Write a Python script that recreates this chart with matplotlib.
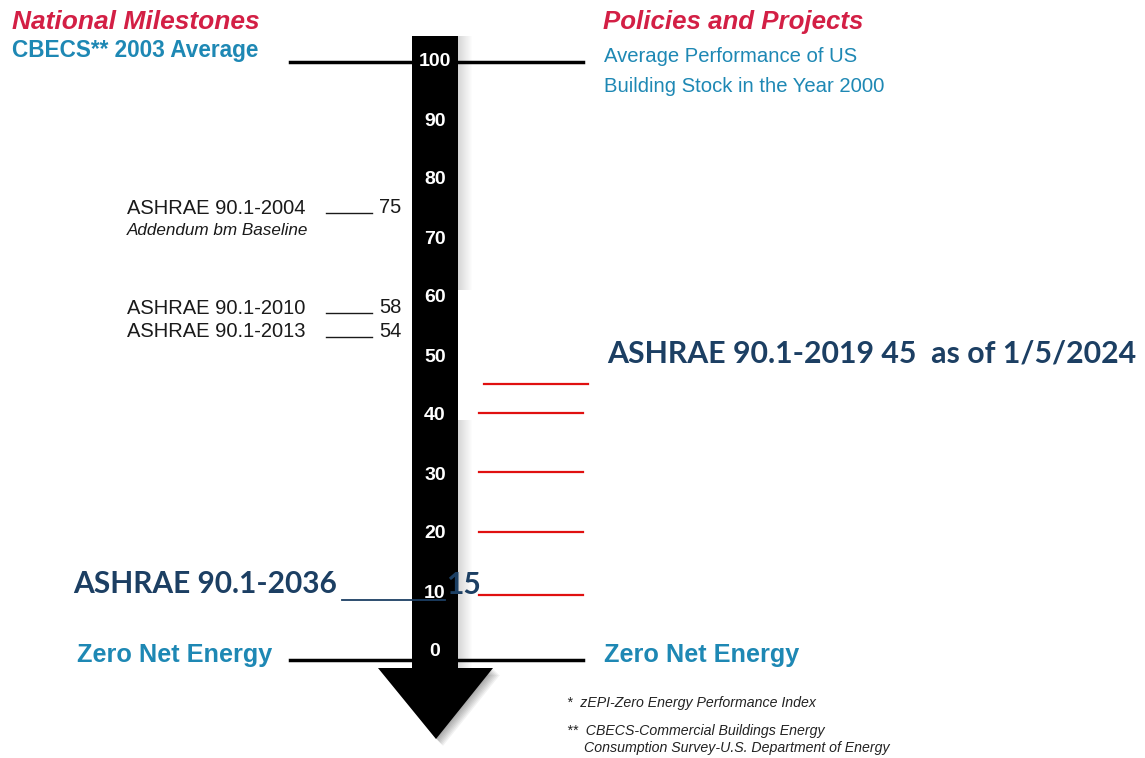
import matplotlib
matplotlib.use("Agg")
import matplotlib.pyplot as plt
import matplotlib.patches as patches

# zEPI scale printed on the arrow
scale_ticks = [100, 90, 80, 70, 60, 50, 40, 30, 20, 10, 0]

# national milestones (left side)
milestone_names = ["ASHRAE 90.1-2004", "ASHRAE 90.1-2010", "ASHRAE 90.1-2013"]
milestone_values = [75, 58, 54]

# red target lines (right side)
target_levels = [45.5, 40.5, 30.5, 20.3, 9.7]

# annotations added on top of the original graphic
new_label_2019 = "ASHRAE 90.1-2019 45  as of 1/5/2024"
new_label_2036 = "ASHRAE 90.1-2036"
value_2036 = 15
level_2036 = 8.8  # where its line is actually drawn

RED = "#d31f45"
TEAL = "#1e88b4"
NAVY = "#1c3f63"
SANS = ["Liberation Sans", "DejaVu Sans"]
CAL = ["Lato", "DejaVu Sans"]

PX_PER_UNIT = 5.9
ZERO_PX = 652


def py(pixel_y):
    # pixel row of the picture -> zEPI units
    return (ZERO_PX - pixel_y) / PX_PER_UNIT


fig = plt.figure(figsize=(11.45, 7.58), dpi=100)
ax = fig.add_axes([0, 0, 1, 1])
ax.set_xlim(0, 1145)
ax.set_ylim(py(758), py(0))
ax.axis("off")

# arrow shaft with soft shadow on the right
bar_left, bar_right = 412, 458
shadow_spans = [(py(668), py(420)), (py(290), py(36))]
for k in range(14):
    for lo, hi in shadow_spans:
        ax.add_patch(patches.Rectangle((bar_right + k, lo), 1, hi - lo,
                                       color="black", alpha=0.16 * (1 - k / 14),
                                       lw=0, zorder=1))
ax.add_patch(patches.Rectangle((bar_left, py(670)), bar_right - bar_left,
                               py(36) - py(670), color="black", lw=0, zorder=3))
# arrow head (with a faint shadow)
for k in range(8):
    ax.add_patch(patches.Polygon([(378 + k, py(668 + k)), (493 + k, py(668 + k)),
                                  (436 + k, py(739 + k))],
                                 closed=True, color="black", alpha=0.05, lw=0, zorder=2))
ax.add_patch(patches.Polygon([(378, py(668)), (493, py(668)), (436, py(739))],
                             closed=True, color="black", lw=0, zorder=3))

for v in scale_ticks:
    ax.text(435, v, str(v), color="white", fontsize=14, fontweight="bold",
            family=SANS, ha="center", va="center", zorder=4)

# 100 and 0 reference lines
for v in (100, py(660)):
    ax.plot([290, bar_left], [v, v], color="black", lw=2.5, zorder=2)
    ax.plot([bar_right, 583], [v, v], color="black", lw=2.5, zorder=2)

# headings
ax.text(12, py(22), "National Milestones", color=RED, fontsize=19,
        fontweight="bold", style="italic", family=SANS, va="center")
ax.text(12, py(51), "CBECS** 2003 Average", color=TEAL, fontsize=16.3,
        fontweight="bold", family=SANS, va="center")
ax.text(603, py(22), "Policies and Projects", color=RED, fontsize=18.6,
        fontweight="bold", style="italic", family=SANS, va="center")
ax.text(604, py(56), "Average Performance of US", color=TEAL, fontsize=14.6,
        family=SANS, va="center")
ax.text(604, py(86), "Building Stock in the Year 2000", color=TEAL, fontsize=14.6,
        family=SANS, va="center")

# milestones on the left
for name, val in zip(milestone_names, milestone_values):
    ax.text(127, val + 0.25, name, color="#1a1a1a", fontsize=14.5, family=SANS,
            va="center")
    ax.plot([326, 372], [val - 0.6, val - 0.6], color="#1a1a1a", lw=1, zorder=2)
    ax.text(379, val + 0.4, str(val), color="#1a1a1a", fontsize=14.5,
            family=SANS, va="center")
ax.text(127, py(230), "Addendum bm Baseline", color="#1a1a1a", fontsize=12.3,
        style="italic", family=SANS, va="center")

# red target lines
for i, lv in enumerate(target_levels):
    x0 = 484 if i == 0 else 479
    ax.plot([x0, x0 + 104], [lv, lv], color="#e01010", lw=1.6, zorder=2)

ax.text(607, py(353), new_label_2019, color=NAVY, fontsize=21.8,
        fontweight="bold", family=CAL, va="center")

ax.text(73, py(584), new_label_2036, color=NAVY, fontsize=21.5,
        fontweight="bold", family=CAL, va="center")
ax.plot([342, 445], [level_2036, level_2036], color=NAVY, lw=1.3, zorder=5)
ax.text(446, py(585), str(value_2036), color=NAVY, fontsize=21.5,
        fontweight="bold", family=CAL, va="center", zorder=5)

# zero net energy
ax.text(77, py(655), "Zero Net Energy", color=TEAL, fontsize=18.2,
        fontweight="bold", family=SANS, va="center")
ax.text(604, py(655), "Zero Net Energy", color=TEAL, fontsize=18.2,
        fontweight="bold", family=SANS, va="center")

# footnotes
ax.text(567, py(703), "*  zEPI-Zero Energy Performance Index", color="#222222",
        fontsize=10.2, style="italic", family=SANS, va="center")
ax.text(567, py(731), "**  CBECS-Commercial Buildings Energy", color="#222222",
        fontsize=10.2, style="italic", family=SANS, va="center")
ax.text(584, py(748), "Consumption Survey-U.S. Department of Energy",
        color="#222222", fontsize=10.2, style="italic", family=SANS, va="center")

fig.savefig("out.png", dpi=100, facecolor="white")
